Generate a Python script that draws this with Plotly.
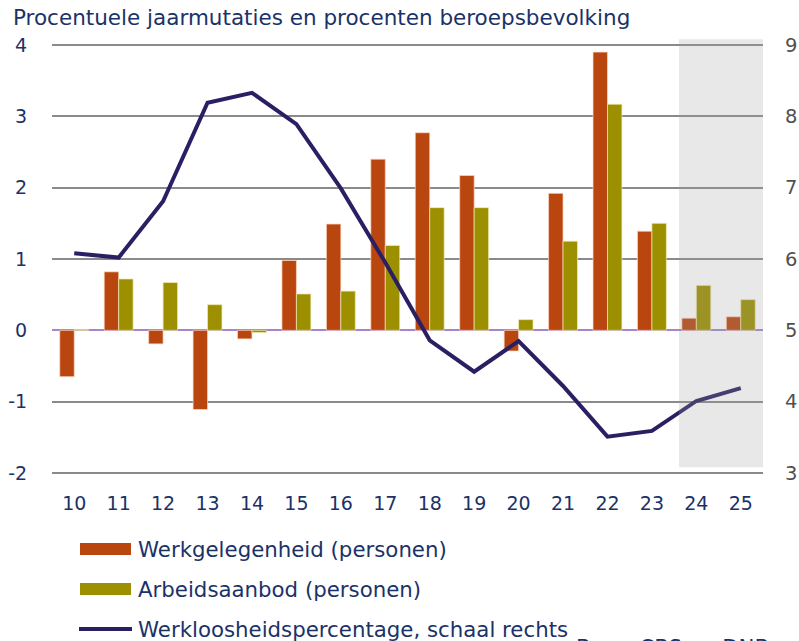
import plotly.graph_objects as go

years = [10, 11, 12, 13, 14, 15, 16, 17, 18, 19, 20, 21, 22, 23, 24, 25]
tick_labels = [str(y) for y in years]
werkgelegenheid = [-0.65, 0.82, -0.19, -1.11, -0.12, 0.98, 1.49, 2.40, 2.77, 2.17, -0.29, 1.92, 3.90, 1.39, 0.17, 0.19]
arbeidsaanbod = [0.01, 0.72, 0.67, 0.36, -0.03, 0.51, 0.55, 1.19, 1.72, 1.72, 0.15, 1.25, 3.17, 1.50, 0.63, 0.43]
werkloosheid = [6.08, 6.02, 6.81, 8.19, 8.33, 7.89, 6.99, 5.95, 4.86, 4.42, 4.85, 4.22, 3.51, 3.59, 4.01, 4.19]
left_ticks = [-2, -1, 0, 1, 2, 3, 4]
left_labels = ["-2", "-1", "0", "1", "2", "3", "4"]
right_ticks = [3, 4, 5, 6, 7, 8, 9]

NAVY = "#1b3267"
ORANGE = "#b8460e"
OLIVE = "#9c9000"
LINE = "#2b1f63"
FONT = "DejaVu Sans"

W, H = 799, 641
# plot area in page pixels
PL, PR, PT, PB = 52, 763, 38, 480

def px(x):
    return (x - PL) / (PR - PL)

def py(y):
    return (PB - y) / (PB - PT)

fig = go.Figure()
fig.add_trace(go.Bar(x=years, y=werkgelegenheid, name="Werkgelegenheid (personen)",
                     marker=dict(color=ORANGE, line=dict(color="rgba(255,215,195,0.7)", width=1)),
                     showlegend=False))
fig.add_trace(go.Bar(x=years, y=arbeidsaanbod, name="Arbeidsaanbod (personen)",
                     marker=dict(color=OLIVE, line=dict(color="rgba(240,235,180,0.7)", width=1)),
                     showlegend=False))
fig.add_trace(go.Scatter(x=years, y=werkloosheid, name="Werkloosheidspercentage, schaal rechts",
                         mode="lines", line=dict(color=LINE, width=4), yaxis="y2",
                         showlegend=False))

# forecast shading (drawn above with transparency)
fig.add_shape(type="rect", xref="x", yref="y", x0=23.61, x1=25.5, y0=-1.92, y1=4.08,
              fillcolor="rgba(160,160,160,0.24)", line=dict(width=0), layer="above")

# manual legend
legend_items = [
    ("Werkgelegenheid (personen)", ORANGE, "bar", 549),
    ("Arbeidsaanbod (personen)", OLIVE, "bar", 589),
    ("Werkloosheidspercentage, schaal rechts", LINE, "line", 629),
]
for name, color, kind, yc in legend_items:
    if kind == "bar":
        fig.add_shape(type="rect", xref="paper", yref="paper",
                      x0=px(80), x1=px(131), y0=py(yc + 6), y1=py(yc - 6),
                      fillcolor=color, line=dict(width=0))
    else:
        fig.add_shape(type="line", xref="paper", yref="paper",
                      x0=px(79), x1=px(132), y0=py(yc), y1=py(yc),
                      line=dict(color=color, width=4))
    fig.add_annotation(text=name, xref="paper", yref="paper", x=px(136), y=py(yc),
                       xanchor="left", yanchor="middle", showarrow=False,
                       font=dict(family=FONT, size=21.3, color=NAVY))

fig.add_annotation(text="Procentuele jaarmutaties en procenten beroepsbevolking",
                   xref="paper", yref="paper", x=px(11), y=py(18), xanchor="left",
                   yanchor="middle", showarrow=False,
                   font=dict(family=FONT, size=21.5, color=NAVY))
fig.add_annotation(text="Bron: CBS en DNB", xref="paper", yref="paper", x=px(574), y=py(633),
                   xanchor="left", yanchor="top", showarrow=False,
                   font=dict(family=FONT, size=21.3, color=NAVY))

fig.update_layout(
    width=W, height=H,
    margin=dict(l=PL, r=W - PR, t=PT, b=H - PB, pad=0, autoexpand=False),
    paper_bgcolor="white", plot_bgcolor="white",
    barmode="group", bargap=0.35, bargroupgap=0,
    font=dict(family=FONT, color=NAVY),
    xaxis=dict(range=[9.5, 25.5], tickvals=years, ticktext=tick_labels, automargin=False,
               showgrid=False, zeroline=False, showline=False,
               ticks="outside", ticklen=6, tickcolor="rgba(0,0,0,0)",
               tickfont=dict(family=FONT, size=19, color=NAVY)),
    yaxis=dict(range=[-2.098, 4.098], tickvals=left_ticks, ticktext=left_labels, automargin=False,
               showgrid=True, gridcolor="#8a8a8a", gridwidth=1.5,
               zeroline=True, zerolinecolor="#a884cc", zerolinewidth=2,
               ticks="outside", ticklen=20, tickcolor="rgba(0,0,0,0)",
               tickfont=dict(family=FONT, size=19, color=NAVY)),
    yaxis2=dict(range=[2.902, 9.098], tickvals=right_ticks, overlaying="y", automargin=False,
                side="right", showgrid=False, zeroline=False,
                ticks="outside", ticklen=17, tickcolor="rgba(0,0,0,0)",
                tickfont=dict(family=FONT, size=19.5, color="#505050")),
)

fig.write_html("out.html", config={"displayModeBar": False},
               post_script="document.body.style.margin='0';document.body.style.overflow='hidden';")
